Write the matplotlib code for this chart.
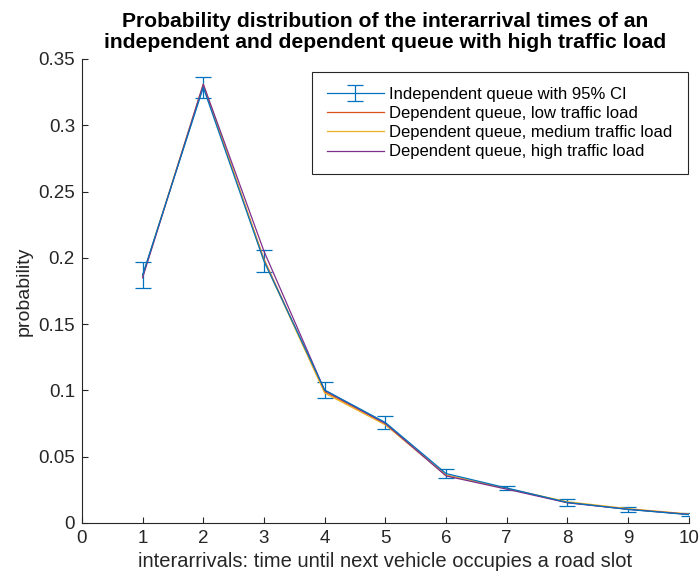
import numpy as np
from matplotlib import pyplot as plt

plt.rcParams['font.family'] = ['Liberation Sans', 'DejaVu Sans']

x = [1, 2, 3, 4, 5, 6, 7, 8, 9, 10]
indep_mean = [0.187, 0.3285, 0.1975, 0.1003, 0.0758, 0.0373, 0.0264, 0.0155, 0.0102, 0.0063]
indep_ci = [0.0098, 0.0080, 0.0084, 0.0060, 0.0049, 0.0034, 0.0015, 0.0026, 0.0017, 0.0010]
dep_low = [0.186, 0.330, 0.199, 0.099, 0.075, 0.036, 0.026, 0.0155, 0.0105, 0.0065]
dep_medium = [0.186, 0.331, 0.198, 0.098, 0.074, 0.036, 0.026, 0.016, 0.0108, 0.0068]
dep_high = [0.185, 0.331, 0.205, 0.100, 0.075, 0.0355, 0.0255, 0.0152, 0.0103, 0.0065]

fig = plt.figure(figsize=(7, 5.84), dpi=100)
ax = fig.add_axes([0.117, 0.1045, 0.867, 0.7945])

h0 = ax.errorbar(x, indep_mean, yerr=indep_ci, color='#0072BD', lw=0.9,
                 capsize=5.5, elinewidth=0.9, capthick=0.9,
                 label='Independent queue with 95% CI')
h1, = ax.plot(x, dep_low, color='#D95319', lw=0.9, label='Dependent queue, low traffic load')
h2, = ax.plot(x, dep_medium, color='#EDB120', lw=0.9, label='Dependent queue, medium traffic load')
h3, = ax.plot(x, dep_high, color='#7E2F8E', lw=0.9, label='Dependent queue, high traffic load')

ax.set_xlim(0, 10)
ax.set_ylim(0, 0.35)
ax.set_xticks(range(0, 11))
ax.set_yticks(np.arange(0, 0.351, 0.05))
ax.set_yticklabels(['0', '0.05', '0.1', '0.15', '0.2', '0.25', '0.3', '0.35'])

for s in ['top', 'right']:
    ax.spines[s].set_visible(False)
for s in ['left', 'bottom']:
    ax.spines[s].set_color('#262626')
    ax.spines[s].set_linewidth(0.8)
ax.tick_params(direction='in', length=4, width=0.8, color='#262626',
               labelsize=13.5, labelcolor='#262626', pad=5)

ax.set_xlabel('interarrivals: time until next vehicle occupies a road slot', fontsize=14.5, color='#262626')
ax.set_ylabel('probability', fontsize=14, color='#262626')
ax.set_title('Probability distribution of the interarrival times of an\n'
             'independent and dependent queue with high traffic load',
             fontsize=15.2, fontweight='bold', pad=8, linespacing=1.15)

leg = ax.legend(handles=[h0, h1, h2, h3], loc='upper right', bbox_to_anchor=(0.998, 0.972),
                fontsize=12, fancybox=False, framealpha=1, edgecolor='#262626',
                handlelength=3.4, borderpad=0.9, labelspacing=0.25, handletextpad=0.35,
                borderaxespad=0.0)
leg.get_frame().set_linewidth(0.8)

plt.savefig('out.png', dpi=100)
